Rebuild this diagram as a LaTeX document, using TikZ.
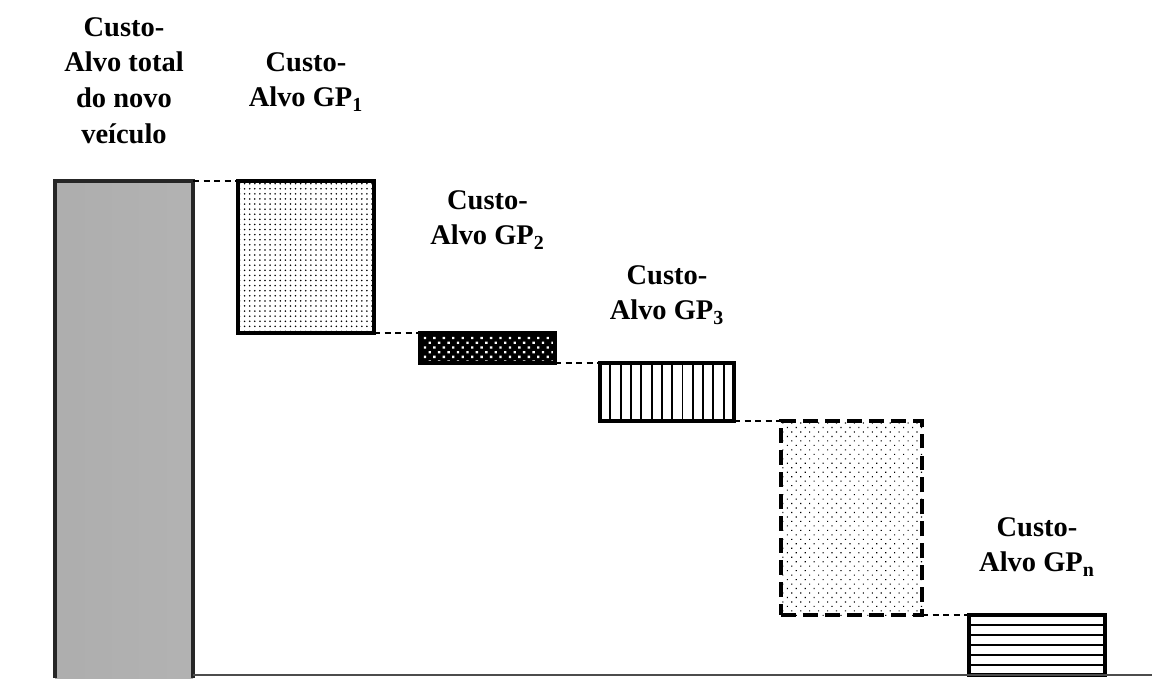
\documentclass[tikz,border=0pt]{standalone}
\usepackage{fontspec}
\setmainfont{Liberation Serif}
\usetikzlibrary{calc,patterns,patterns.meta,positioning}

\begin{document}
\begin{tikzpicture}[line cap=butt,
  font=\fontsize{16.2}{20.3}\selectfont\bfseries,
  box/.style={draw,line width=2.2pt,inner sep=0pt,outer sep=0pt,anchor=north west},
  link/.style={line width=1.4pt,dash pattern=on 3.4pt off 2.6pt},
  lbl/.style={align=center,inner sep=0pt,anchor=north}]
\path[use as bounding box] (0,0) rectangle (23.04,13.56);
\fill[white] (0,0) rectangle (23.04,13.56);

% custo-alvo total
\node[box,draw=none,minimum width=2.76cm,minimum height=9.94cm,
  left color=black!32,middle color=black!23,right color=black!30] (total) at (1.10,9.94) {};
\draw[line width=1.8pt,black!85] (total.south west) -- (total.north west) -- (total.north east) -- (total.south east);

% grupos de peças GP1 ... GPn
\node[box,minimum width=2.72cm,minimum height=3.04cm,
  pattern={Dots[distance=2.9pt,radius=0.5pt]}] (gp1) at ($(total.north east)+(0.90,0)$) {};
\node[box,line width=1.8pt,minimum width=2.70cm,minimum height=0.60cm,preaction={fill=black},
  pattern={Dots[angle=45,distance=3.8pt,radius=0.95pt]},pattern color=white] (gp2) at ($(gp1.south east)+(0.92,0)$) {};
\node[box,minimum width=2.68cm,minimum height=1.16cm] (gp3) at ($(gp2.south east)+(0.90,0)$) {};
\foreach \k in {1,...,12}
  \draw[line width=1.1pt] ($(gp3.north west)!\k/13!(gp3.north east)$) -- ($(gp3.south west)!\k/13!(gp3.south east)$);
\node[box,dash pattern=on 8.5pt off 4pt,minimum width=2.82cm,minimum height=3.88cm,
  pattern={Dots[angle=45,distance=3.6pt,radius=0.45pt]}] (gp4) at ($(gp3.south east)+(0.94,0)$) {};
\node[box,line width=1.8pt,minimum width=2.72cm,minimum height=1.20cm] (gpn) at ($(gp4.south east)+(0.94,0)$) {};
\foreach \k in {1,...,5}
  \draw[line width=0.9pt] ($(gpn.north west)!\k/6!(gpn.south west)$) -- ($(gpn.north east)!\k/6!(gpn.south east)$);

% ligações tracejadas e linha de base
\draw[link] (total.north east) -- (gp1.north west);
\draw[link] (gp1.south east) -- (gp2.north west);
\draw[link] (gp2.south east) -- (gp3.north west);
\draw[link] (gp3.south east) -- (gp4.north west);
\draw[link] (gp4.south east) -- (gpn.north west);
\coordinate (floor) at (23.04,0.06);
\draw[line width=0.8pt,black!70] (total.east |- floor) -- (floor);

\node[lbl] (lbltot) at ($(total.north)+(0,3.28)$) {Custo-\\Alvo total\\do novo\\veículo};
\node[lbl] (lbl1) at ($(gp1.north)+(0,2.58)$) {Custo-\\Alvo GP\textsubscript{1}};
\node[lbl] (lbl2) at ($(gp2.north)+(0,2.86)$) {Custo-\\Alvo GP\textsubscript{2}};
\node[lbl] (lbl3) at ($(gp3.north)+(0,1.96)$) {Custo-\\Alvo GP\textsubscript{3}};
\node[lbl] (lbln) at ($(gpn.north)+(0,1.96)$) {Custo-\\Alvo GP\textsubscript{n}};
\end{tikzpicture}
\end{document}
